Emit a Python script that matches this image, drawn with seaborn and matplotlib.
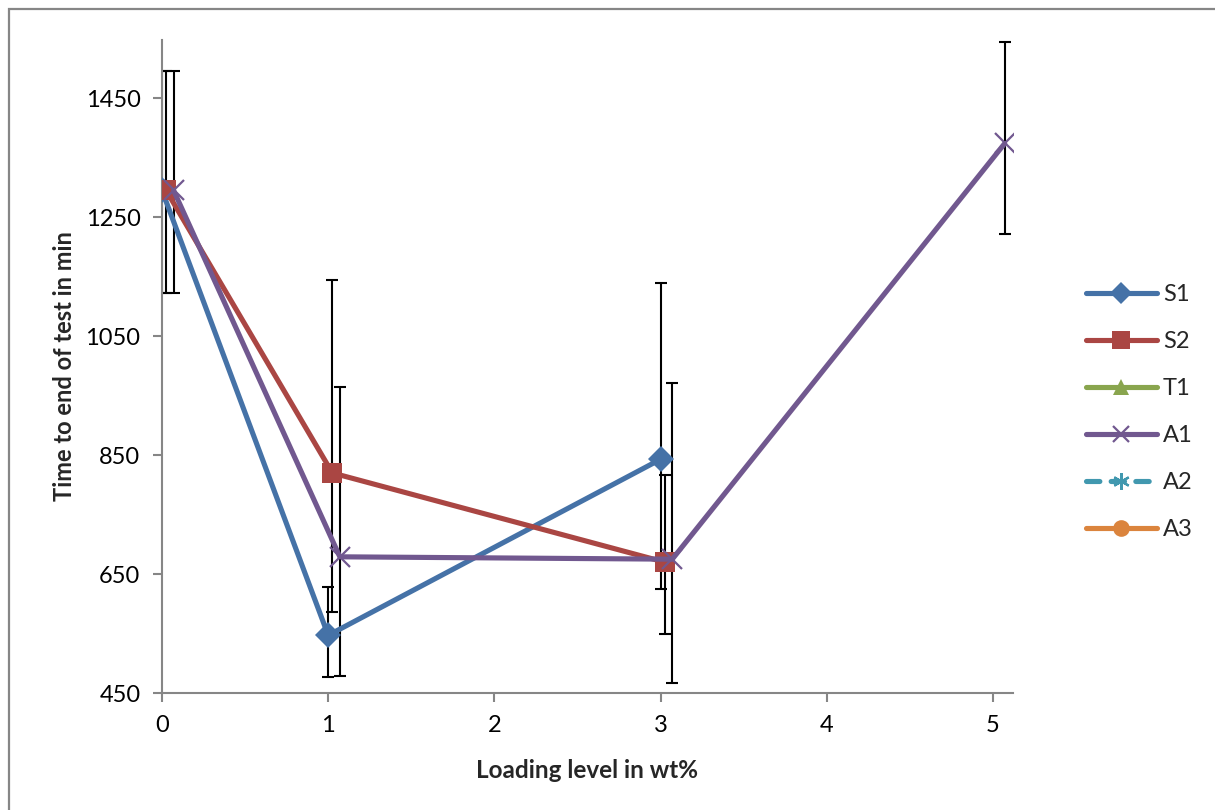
import matplotlib
matplotlib.use("Agg")
import matplotlib.pyplot as plt
from matplotlib.lines import Line2D
from matplotlib.patches import Rectangle
import seaborn as sns
import pandas as pd
import numpy as np

# ---- data ----
series_names = ["S1", "S2", "T1", "A1", "A2", "A3"]

s1_x = [0.0, 1.0, 3.0]
s1_y = [1295, 547, 843]
s1_lo = [1122, 477, 625]
s1_hi = [1496, 629, 1139]

s2_x = [0.025, 1.025, 3.025]
s2_y = [1295, 820, 670]
s2_lo = [1122, 586, 549]
s2_hi = [1496, 1144, 816]

a1_x = [0.07, 1.07, 3.07, 5.07]
a1_y = [1295, 679, 675, 1374]
a1_lo = [1122, 479, 467, 1221]
a1_hi = [1496, 964, 971, 1545]

x_ticks = [0, 1, 2, 3, 4, 5]
y_ticks = [450, 650, 850, 1050, 1250, 1450]

colors = {"S1": "#4572A7", "S2": "#AA4643", "T1": "#89A54E",
          "A1": "#71588F", "A2": "#4198AF", "A3": "#DB843D"}
markers = {"S1": "D", "S2": "s", "T1": "^", "A1": "x", "A2": (6, 2, 0), "A3": "o"}
msizes = {"S1": 13, "S2": 15, "T1": 13, "A1": 14, "A2": 14, "A3": 14}

sns.set_theme(style="white")
plt.rcParams["font.family"] = ["Lato", "DejaVu Sans"]

fig = plt.figure(figsize=(12.15, 8.10), dpi=100)
ax = fig.add_axes([162 / 1215, 1 - 693 / 810, (1013 - 162) / 1215, (693 - 40) / 810])

plotted = [("S1", s1_x, s1_y, s1_lo, s1_hi),
           ("S2", s2_x, s2_y, s2_lo, s2_hi),
           ("A1", a1_x, a1_y, a1_lo, a1_hi)]

for name, xs, ys, lo, hi in plotted:
    xs = np.array(xs); ys = np.array(ys)
    yerr = [ys - np.array(lo), np.array(hi) - ys]
    ax.errorbar(xs, ys, yerr=yerr, fmt="none", ecolor="black", elinewidth=1.5,
                capsize=4, capthick=1.5, zorder=2)

for name, xs, ys, lo, hi in plotted:
    df = pd.DataFrame({"x": xs, "y": ys})
    mew = 1.6 if name == "A1" else 0
    sns.lineplot(data=df, x="x", y="y", ax=ax, color=colors[name], linewidth=3.7,
                 marker=markers[name], markersize=msizes[name],
                 markeredgewidth=mew, markeredgecolor=colors[name],
                 estimator=None, sort=False, legend=False, zorder=3)

ax.set_xlim(0, 5.12)
ax.set_ylim(450, 1548)
ax.set_xticks(x_ticks)
ax.set_yticks(y_ticks)
ax.set_xticklabels([str(t) for t in x_ticks])
ax.set_yticklabels([str(t) for t in y_ticks])

for side in ["top", "right"]:
    ax.spines[side].set_visible(False)
for side in ["left", "bottom"]:
    ax.spines[side].set_color("#868686")
    ax.spines[side].set_linewidth(1.5)
ax.tick_params(axis="both", which="major", direction="out", length=6.5, width=1.5,
               color="#868686", labelsize=17, labelcolor="black", pad=9,
               left=True, bottom=True)
ax.grid(False)

ax.set_xlabel("Loading level in wt%", fontsize=17.5, fontweight="bold", labelpad=17)
ax.set_ylabel("Time to end of test in min", fontsize=17, fontweight="bold", labelpad=7)

handles = []
for name in series_names:
    ls = (0, (2.6, 2.2)) if name == "A2" else "-"
    mew = 1.6 if name in ("A1", "A2") else 0
    handles.append(Line2D([0], [0], color=colors[name], linewidth=3.7, linestyle=ls,
                          marker=markers[name], markersize=msizes[name] - 2,
                          markeredgewidth=mew, markeredgecolor=colors[name],
                          solid_capstyle="round", dash_capstyle="round"))
leg = fig.legend(handles, series_names, loc="center left",
                 bbox_to_anchor=(1086 / 1215, 1 - 412 / 810), frameon=False,
                 fontsize=17, handlelength=3.0, handletextpad=0.25,
                 labelspacing=1.1, borderpad=0, borderaxespad=0)

fig.patches.append(Rectangle((9 / 1215, -0.1), 1.2, 1.1 - 9 / 810,
                             transform=fig.transFigure, fill=False,
                             edgecolor="#868686", linewidth=1.6))

fig.savefig("out.png", dpi=100)
